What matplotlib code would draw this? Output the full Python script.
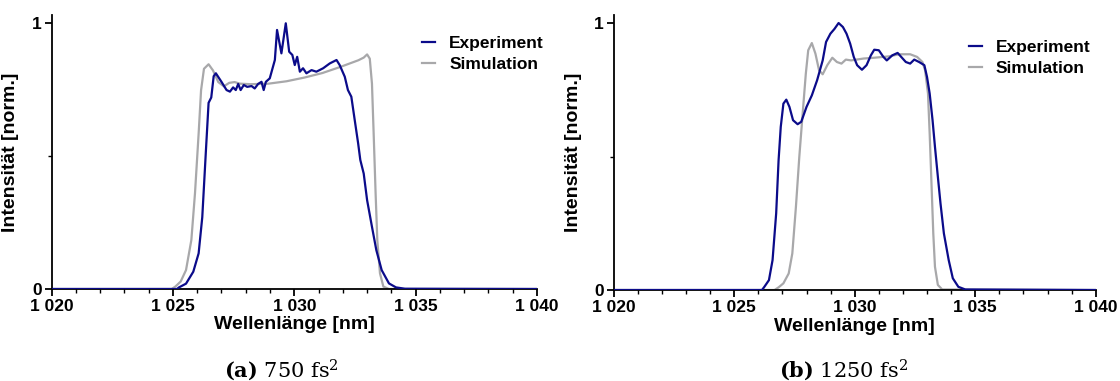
import matplotlib
matplotlib.use("Agg")
import matplotlib.pyplot as plt
from matplotlib.ticker import MultipleLocator, FixedLocator, FuncFormatter

plt.rcParams["mathtext.fontset"] = "dejavuserif"

# -----------------------------
# Daten
# -----------------------------
# (a) 750 fs^2
exp_a_wl = [1020.0, 1025.17, 1025.25, 1025.54, 1025.84, 1026.06, 1026.21, 1026.36, 1026.47,
            1026.58, 1026.68, 1026.77, 1027.0, 1027.21, 1027.35, 1027.48, 1027.59, 1027.69,
            1027.79, 1027.92, 1028.06, 1028.24, 1028.37, 1028.51, 1028.65, 1028.74, 1028.83,
            1028.99, 1029.2, 1029.29, 1029.47, 1029.65, 1029.79, 1029.92, 1030.02, 1030.12,
            1030.23, 1030.36, 1030.5, 1030.71, 1030.91, 1031.19, 1031.46, 1031.74, 1031.87,
            1032.08, 1032.21, 1032.35, 1032.49, 1032.63, 1032.72, 1032.86, 1033.0, 1033.2,
            1033.38, 1033.6, 1033.9, 1034.19, 1034.56, 1040.0]
exp_a_int = [0.0, 0.0, 0.006, 0.02, 0.065, 0.134, 0.27, 0.52, 0.70,
             0.72, 0.80, 0.811, 0.779, 0.748, 0.742, 0.758, 0.748, 0.771,
             0.748, 0.767, 0.76, 0.763, 0.754, 0.771, 0.779, 0.748, 0.779,
             0.792, 0.861, 0.974, 0.886, 0.999, 0.892, 0.88, 0.842, 0.873,
             0.817, 0.83, 0.811, 0.823, 0.817, 0.83, 0.848, 0.861, 0.842,
             0.798, 0.748, 0.723, 0.635, 0.548, 0.485, 0.434, 0.334, 0.234,
             0.146, 0.071, 0.021, 0.006, 0.001, 0.0]

sim_a_wl = [1020.0, 1024.95, 1025.1, 1025.32, 1025.54, 1025.76, 1025.91, 1026.06, 1026.16,
            1026.28, 1026.47, 1026.65, 1026.87, 1027.1, 1027.32, 1027.54, 1027.76, 1028.2,
            1028.94, 1029.68, 1030.42, 1031.16, 1031.9, 1032.64, 1032.86, 1033.0, 1033.11,
            1033.2, 1033.27, 1033.35, 1033.42, 1033.53, 1033.67, 1033.9, 1040.0]
sim_a_int = [0.0, 0.0, 0.009, 0.028, 0.071, 0.184, 0.36, 0.584, 0.747,
             0.828, 0.845, 0.822, 0.778, 0.762, 0.775, 0.778, 0.772, 0.77,
             0.772, 0.781, 0.795, 0.812, 0.835, 0.86, 0.87, 0.882, 0.866,
             0.772, 0.584, 0.36, 0.184, 0.059, 0.009, 0.0, 0.0]

# (b) 1250 fs^2
exp_b_wl = [1020.0, 1026.15, 1026.25, 1026.44, 1026.59, 1026.74, 1026.84, 1026.93, 1027.04,
            1027.16, 1027.29, 1027.44, 1027.63, 1027.78, 1028.0, 1028.22, 1028.44, 1028.67,
            1028.81, 1028.99, 1029.16, 1029.33, 1029.51, 1029.66, 1029.81, 1029.96, 1030.1,
            1030.3, 1030.49, 1030.67, 1030.81, 1031.0, 1031.19, 1031.33, 1031.56, 1031.78,
            1031.93, 1032.12, 1032.3, 1032.47, 1032.67, 1032.89, 1033.0, 1033.11, 1033.23,
            1033.33, 1033.45, 1033.56, 1033.7, 1033.9, 1034.07, 1034.3, 1034.59, 1040.0]
exp_b_int = [0.0, 0.0, 0.012, 0.037, 0.112, 0.287, 0.486, 0.611, 0.698,
             0.713, 0.686, 0.636, 0.621, 0.63, 0.686, 0.729, 0.786, 0.86,
             0.929, 0.96, 0.978, 1.0, 0.985, 0.96, 0.923, 0.873, 0.842,
             0.825, 0.842, 0.879, 0.9, 0.898, 0.873, 0.86, 0.879, 0.888,
             0.873, 0.854, 0.848, 0.863, 0.854, 0.842, 0.798, 0.736, 0.636,
             0.536, 0.424, 0.324, 0.212, 0.112, 0.044, 0.012, 0.002, 0.0]

sim_b_wl = [1020.0, 1026.67, 1026.84, 1027.04, 1027.26, 1027.41, 1027.56, 1027.7, 1027.85,
            1027.97, 1028.07, 1028.22, 1028.37, 1028.52, 1028.67, 1028.86, 1029.07, 1029.26,
            1029.45, 1029.63, 1029.85, 1030.07, 1030.37, 1030.81, 1031.41, 1031.85, 1032.3,
            1032.59, 1032.81, 1032.92, 1033.04, 1033.11, 1033.19, 1033.26, 1033.33, 1033.45,
            1033.63, 1040.0]
sim_b_int = [0.0, 0.0, 0.01, 0.025, 0.062, 0.137, 0.312, 0.499, 0.673,
             0.81, 0.898, 0.925, 0.885, 0.823, 0.808, 0.842, 0.87, 0.854,
             0.848, 0.863, 0.86, 0.863, 0.867, 0.87, 0.875, 0.883, 0.883,
             0.873, 0.854, 0.823, 0.736, 0.586, 0.387, 0.212, 0.087, 0.019,
             0.002, 0.0]

x_ticks = [1020, 1025, 1030, 1035, 1040]
captions = [("(a)", "750"), ("(b)", "1250")]

BLUE = "#0b0b8a"
GREY = "#a8a8aa"
SANS = ["Liberation Sans", "DejaVu Sans"]

# -----------------------------
# Figur
# -----------------------------
fig = plt.figure(figsize=(11.2, 3.81), dpi=100)
ax_a = fig.add_axes([0.046, 0.2415, 0.4335, 0.719])
ax_b = fig.add_axes([0.548, 0.2388, 0.4303, 0.7218])

panels = [
    (ax_a, exp_a_wl, exp_a_int, sim_a_wl, sim_a_int, (0.371, 0.923), 0.251),
    (ax_b, exp_b_wl, exp_b_int, sim_b_wl, sim_b_int, (0.859, 0.913), 0.7536),
]

def fmt_wl(v, pos):
    s = f"{int(round(v))}"
    return s[0] + " " + s[1:]

for i, (ax, ewl, ei, swl, si, leg_pos, cap_x) in enumerate(panels):
    ax.plot(ewl, ei, color=BLUE, lw=1.6, label="Experiment", zorder=3)
    ax.plot(swl, si, color=GREY, lw=1.6, label="Simulation", zorder=2)

    ax.set_xlim(1020, 1040)
    ax.set_ylim(0, 1.03)
    ax.spines["top"].set_visible(False)
    ax.spines["right"].set_visible(False)
    for s in ("left", "bottom"):
        ax.spines[s].set_linewidth(1.3)

    ax.xaxis.set_major_locator(FixedLocator(x_ticks))
    ax.xaxis.set_minor_locator(MultipleLocator(1))
    ax.xaxis.set_major_formatter(FuncFormatter(fmt_wl))
    ax.yaxis.set_major_locator(FixedLocator([0, 1]))
    ax.yaxis.set_minor_locator(FixedLocator([0.5]))
    ax.set_yticklabels(["0", "1"])
    ax.tick_params(which="major", length=5, width=1.3, pad=2)
    ax.tick_params(which="minor", length=3, width=1.0)
    for lab in ax.get_xticklabels() + ax.get_yticklabels():
        lab.set_family(SANS)
        lab.set_fontweight("bold")
        lab.set_fontsize(12.5)

    ax.set_xlabel("Wellenlänge [nm]", family=SANS, fontweight="bold", fontsize=14, labelpad=2)
    ax.set_ylabel("Intensität [norm.]", family=SANS, fontweight="bold", fontsize=14)
    ax.yaxis.set_label_coords(-0.066, 0.5)

    ax.legend(loc="upper left", bbox_to_anchor=leg_pos, bbox_transform=fig.transFigure,
              frameon=False, handlelength=0.75, handletextpad=0.8, labelspacing=0.3,
              prop={"family": SANS, "weight": "bold", "size": 12.5}, borderaxespad=0)

    tag, val = captions[i]
    fig.text(cap_x, 0.028, r"$\mathbf{" + tag + r"}\ \mathrm{" + val + r"\ fs^{2}}$",
             ha="center", va="center", fontsize=15)

fig.savefig("out.png", dpi=100)
